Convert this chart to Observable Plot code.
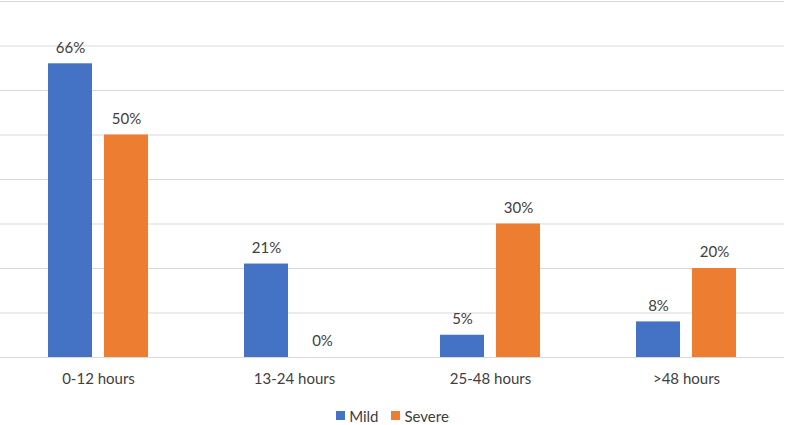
<!DOCTYPE html>
<html><head><meta charset="utf-8">
<script src="https://cdn.jsdelivr.net/npm/d3@7"></script>
<script src="https://cdn.jsdelivr.net/npm/@observablehq/plot@0.6"></script>
<style>
body{margin:0;background:#fff;font-family:Lato,"Open Sans",sans-serif;color:#404040;}
#legend{display:flex;justify-content:center;align-items:center;gap:13px;font-size:15px;height:25px;margin-top:3px;}
#legend span.sw{display:inline-block;width:9px;height:9px;margin-right:4px;}
</style></head>
<body>
<div id="chart"></div>
<div id="legend"></div>
<script>
const categories = ["0-12 hours", "13-24 hours", "25-48 hours", ">48 hours"];
const mild = [66, 21, 5, 8];
const severe = [50, 0, 30, 20];
const seriesNames = ["Mild", "Severe"];
const seriesColors = ["#4472C4", "#ED7D31"];
const gridTicks = [0, 10, 20, 30, 40, 50, 60, 70, 80];

const mildData = categories.map((c, i) => ({cat: c, value: mild[i]}));
const severeData = categories.map((c, i) => ({cat: c, value: severe[i]}));

const chart = Plot.plot({
  width: 785, height: 400,
  marginTop: 1, marginBottom: 43, marginLeft: 0, marginRight: 1,
  style: {fontFamily: "Lato,'Open Sans',sans-serif", color: "#404040", background: "#fff"},
  x: {domain: categories, paddingInner: 0.49, paddingOuter: 0.245, label: null},
  y: {domain: [0, 80], axis: null},
  marks: [
    Plot.ruleY(gridTicks, {stroke: "#d9d9d9", strokeWidth: 1.2}),
    Plot.barY(mildData, {x: "cat", y: "value", fill: seriesColors[0], insetRight: 56}),
    Plot.barY(severeData, {x: "cat", y: "value", fill: seriesColors[1], insetLeft: 56}),
    Plot.text(mildData, {x: "cat", y: "value", text: d => d.value + "%", dx: -28, dy: -16, fontSize: 15, fill: "#404040"}),
    Plot.text(severeData, {x: "cat", y: "value", text: d => d.value + "%", dx: 28, dy: -16, fontSize: 15, fill: "#404040"}),
    Plot.axisX({tickSize: 0, tickPadding: 16, fontSize: 15, label: null, fill: "#404040"})
  ]
});
document.getElementById("chart").appendChild(chart);

const legend = document.getElementById("legend");
seriesNames.forEach((n, i) => {
  const item = document.createElement("div");
  item.style.display = "flex"; item.style.alignItems = "center";
  item.innerHTML = `<span class="sw" style="background:${seriesColors[i]}"></span>${n}`;
  legend.appendChild(item);
});
</script>
</body></html>
